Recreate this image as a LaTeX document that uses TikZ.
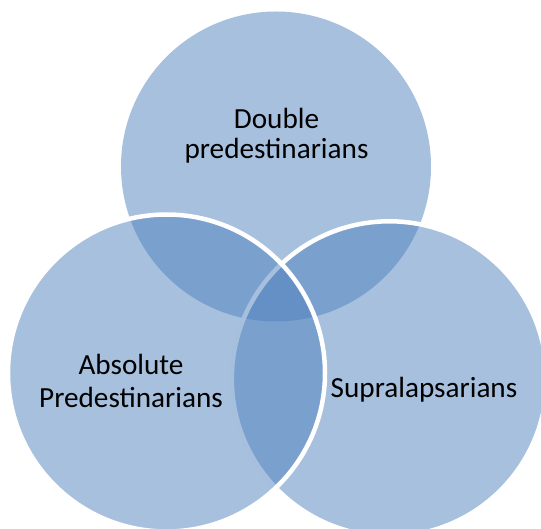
\documentclass[tikz,border=0pt]{standalone}
\usepackage{fontspec}
\setmainfont{Carlito}
\definecolor{vennblue}{HTML}{4F81BD}
\begin{document}
\begin{tikzpicture}[x=1pt,y=-1pt,
  vennset/.style={circle, inner sep=0pt, outer sep=0pt, fill=vennblue, fill opacity=0.5},
  vennrim/.style={draw=white, line width=4.5pt},
  vennlabel/.style={anchor=base, inner sep=0pt, text=black}]
\useasboundingbox (0,0) rectangle (541,529);
\clip (0,0) rectangle (541,529);
\node[vennset, minimum size=310pt] (top) at (276,166.5) {};
\node[vennset, vennrim, minimum size=315pt] (right) at (389.3,378.8) {};
\node[vennset, vennrim, minimum size=317pt] (left) at (166.5,373) {};
\node[vennlabel, font=\fontsize{29.2}{30.7}\selectfont] (ltop) at (276.5,128.3)
  {\begin{tabular}[t]{@{}c@{}}Double\\predestinarians\end{tabular}};
\node[vennlabel, font=\fontsize{29.2}{33.7}\selectfont] (lleft) at (131,374)
  {\begin{tabular}[t]{@{}c@{}}Absolute\\Predestinarians\end{tabular}};
\node[vennlabel, font=\fontsize{29.2}{33}\selectfont] (lright) at (424,397.3)
  {Supralapsarians};
\end{tikzpicture}
\end{document}
